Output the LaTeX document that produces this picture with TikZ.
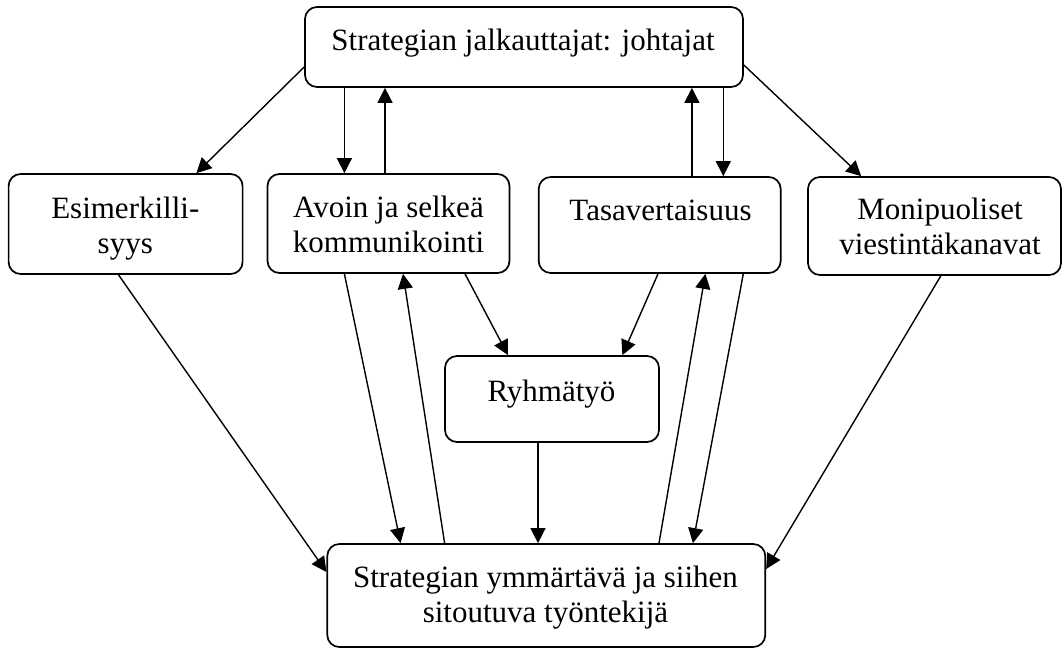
\documentclass[tikz,border=0pt]{standalone}
\usepackage{fontspec}
\setmainfont{Liberation Serif}
\usetikzlibrary{arrows.meta}
\begin{document}
\begin{tikzpicture}[x=1pt,y=-1pt,
  box/.style={draw, line width=1.7pt, rounded corners=12pt, inner sep=0pt},
  lbl/.style={font=\fontsize{31}{35}\selectfont, inner sep=0pt, align=center, anchor=north},
  arr/.style={line width=1.4pt, -{Triangle[length=15pt,width=15pt]}}]
\useasboundingbox (0,0) rectangle (1062,648);
% boxes
\node[box, minimum width=438pt, minimum height=80pt] (top) at (524,47) {};
\node[box, minimum width=234pt, minimum height=100pt] (esim) at (125.6,224) {};
\node[box, minimum width=242pt, minimum height=99pt] (avoin) at (388.5,223.5) {};
\node[box, minimum width=242pt, minimum height=96pt] (tasa) at (659.7,225) {};
\node[box, minimum width=253pt, minimum height=98pt] (moni) at (934.5,226) {};
\node[box, minimum width=214pt, minimum height=86pt] (ryhm) at (552,399) {};
\node[box, minimum width=438pt, minimum height=103pt] (bott) at (546.3,595.5) {};
% texts
\node[lbl] (ttop) at (523,25.5) {\strut Strategian jalkauttajat: johtajat};
\node[lbl] (tesim) at (125.3,193.5) {\strut Esimerkilli-\\\strut syys};
\node[lbl] (tavoin) at (388.5,192.5) {\strut Avoin ja selkeä\\\strut kommunikointi};
\node[lbl] (ttasa) at (660.5,195.5) {\strut Tasavertaisuus};
\node[lbl] (tmoni) at (940,194.5) {\strut Monipuoliset\\\strut viestintäkanavat};
\node[lbl] (tryhm) at (551.5,376.5) {\strut Ryhmätyö};
\node[lbl] (tbott) at (545.5,562.5) {\strut Strategian ymmärtävä ja siihen\\\strut sitoutuva työntekijä};
% connectors
\draw[arr] ([yshift=-20pt]top.west) -- ([xshift=70.8pt]esim.north);
\draw[arr] ([xshift=-179.6pt]top.south) -- ([xshift=-44.1pt]avoin.north);
\draw[arr] ([xshift=-3.5pt]avoin.north) -- ([xshift=-139pt]top.south);
\draw[arr] ([xshift=32.2pt]tasa.north) -- ([xshift=167.9pt]top.south);
\draw[arr] ([xshift=199.3pt]top.south) -- ([xshift=63.6pt]tasa.north);
\draw[arr] ([yshift=-18pt]top.east) -- ([xshift=-73.3pt]moni.north);
\draw[arr] ([xshift=-7.1pt]esim.south) -- ([yshift=23.5pt]bott.west);
\draw[arr] ([xshift=-44.1pt]avoin.south) -- ([xshift=-145.7pt]bott.north);
\draw[arr] ([xshift=-101.7pt]bott.north) -- ([xshift=14.5pt]avoin.south);
\draw[arr] ([xshift=76.5pt]avoin.south) -- ([xshift=-44pt]ryhm.north);
\draw[arr] ([xshift=-1.7pt]tasa.south) -- ([xshift=70.4pt]ryhm.north);
\draw[arr] ([xshift=-14pt]ryhm.south) -- ([xshift=-8.3pt]bott.north);
\draw[arr] ([xshift=112.7pt]bott.north) -- ([xshift=45.7pt]tasa.south);
\draw[arr] ([xshift=83.6pt]tasa.south) -- ([xshift=146.6pt]bott.north);
\draw[arr] ([xshift=6.3pt]moni.south) -- ([yshift=26.5pt]bott.east);
\end{tikzpicture}
\end{document}
